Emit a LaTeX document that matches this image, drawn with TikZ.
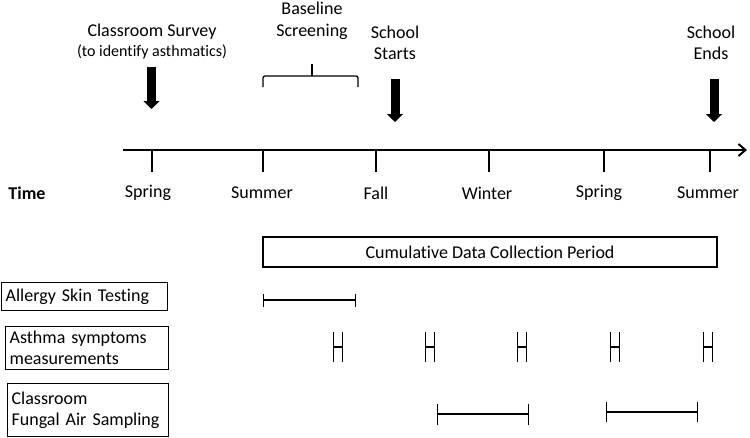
\documentclass[tikz,border=0pt]{standalone}
\usepackage{fontspec}
\setmainfont{Carlito}[Ligatures=NoCommon]
\usetikzlibrary{arrows.meta}

\tikzset{
  txt/.style={font=\fontsize{18}{21}\selectfont, inner sep=0pt, align=center},
  bigarrow/.style={line width=9pt, -{Triangle[width=16pt,length=8pt]}},
  tick/.style={line width=1.6pt},
  interval/.style={line width=1.3pt, {Bar[width=#1]}-{Bar[width=#1]}},
  taskbox/.style={draw, line width=1.3pt, font=\fontsize{18}{21}\selectfont,
    align=left, inner xsep=4pt, inner ysep=0pt, anchor=north west}
}

\begin{document}
\begin{tikzpicture}[x=1pt,y=-1pt]
\useasboundingbox (0,0) rectangle (750,437);
% The time axis
\coordinate (axis start) at (123,150);
\coordinate (axis end) at (747,150);
\draw[line width=2pt, -{Straight Barb[length=7pt,width=12pt]}] (axis start) -- (axis end);
\node[txt, font=\fontsize{18}{21}\selectfont\bfseries] (time) at (27,193) {Time};
% The ticks and seasons
\foreach \x/\lx/\name/\season in {152/148/spa/Spring, 263/262/sua/Summer, 376/376/fal/Fall,
  489/487/win/Winter, 604/599/spb/Spring, 710/708/sub/Summer}
{
  \coordinate (t-\name) at (\x,150);
  \draw[tick] (t-\name) -- ++(0,22);
  \node[txt] (s-\name) at (\lx,193) {\season};
}

% Events above the axis
\node[txt] (survey) at (152,42) {Classroom Survey\\[-1pt]{\fontsize{16}{21}\selectfont(to identify asthmatics)}};
\node[txt, font=\fontsize{18}{22}\selectfont] (baseline) at (312,21) {Baseline\\Screening};
\node[txt] (starts) at (395,42.5) {School\\Starts};
\node[txt] (ends) at (711,42.5) {School\\Ends};

\coordinate (survey top) at (151.5,67);
\coordinate (survey tip) at (151.5,109);
\coordinate (starts top) at (395,79);
\coordinate (starts tip) at (395,122);
\coordinate (ends top) at (714,79);
\coordinate (ends tip) at (714,122);
\draw[bigarrow] (survey top) -- (survey tip);
\draw[bigarrow] (starts top) -- (starts tip);
\draw[bigarrow] (ends top) -- (ends tip);

% Bracket for the screening
\draw[line width=1.3pt, rounded corners=2pt] (263,87) -- (263,76) -- (358,76) -- (358,87);
\draw[line width=1.3pt] (312,76) -- (312,64);

% Study period and tasks
\node[draw, line width=1.3pt, font=\fontsize{18}{21}\selectfont, minimum width=454pt,
  minimum height=30pt, inner sep=0pt] (period) at (490,252) {Cumulative Data Collection Period};
\node[taskbox, text width=158pt, minimum height=28pt] (skin) at (1,282) {Allergy Skin Testing};
\node[taskbox, text width=155pt, minimum height=43pt] (symptoms) at (5,326) {Asthma symptoms\\measurements};
\node[taskbox, text width=153pt, minimum height=53pt] (fungal) at (7,383) {Classroom\\Fungal Air Sampling};

% Skin testing
\draw[interval=13pt] (263,300) -- (356,300);
% Symptom measurements
\foreach \x in {338,430,522,615,708}
  \draw[interval=30pt] (\x-5,347) -- (\x+5,347);
% Fungal sampling
\draw[interval=21pt] (437,414) -- (529,414);
\draw[interval=20pt] (606,412) -- (698,412);
\end{tikzpicture}
\end{document}
